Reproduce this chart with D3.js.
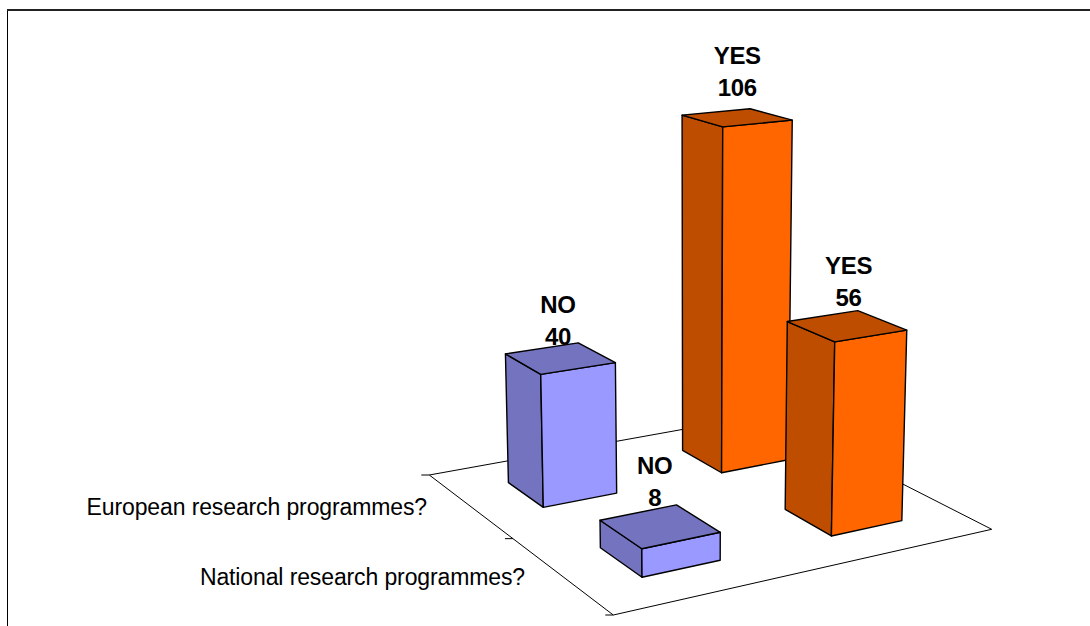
<!DOCTYPE html>
<html><head><meta charset="utf-8">
<script src="https://cdn.jsdelivr.net/npm/d3@7"></script>
<style>html,body{margin:0;padding:0;background:#fff}svg{display:block}</style>
</head><body><div id="c"></div>
<script>
const series = ["NO", "YES"];
const categories = ["National research programmes?", "European research programmes?"];
const noValues = [8, 40];
const yesValues = [56, 106];
const seriesColors = {NO: ["#9999ff", "#7373bf"], YES: ["#ff6600", "#bf4d00"]};

const W = 1090, H = 626;
const svg = d3.select("#c").append("svg").attr("width", W).attr("height", H);

// floor plane corners on screen -> projective map (u along series, v along depth)
const floor = {p0:[613.3,615], p1:[991.7,529.3], p2:[766,414.4], p3:[429.3,475]};
function homography(q){
  const [x0,y0]=q.p0,[x1,y1]=q.p1,[x2,y2]=q.p2,[x3,y3]=q.p3;
  const dx1=x1-x2,dx2=x3-x2,sx=x0-x1+x2-x3,dy1=y1-y2,dy2=y3-y2,sy=y0-y1+y2-y3;
  const det=dx1*dy2-dx2*dy1;
  const g=(sx*dy2-dx2*sy)/det,h=(dx1*sy-sx*dy1)/det;
  return {a:x1-x0+g*x1,b:x3-x0+h*x3,c:x0,d:y1-y0+g*y1,e:y3-y0+h*y3,f:y0,g,h};
}
const M = homography(floor);
const vanish = [695, 8500];
const zScale = d3.scaleLinear().domain([0,106]).range([0,0.0497]);
function project(u,v,val){
  const t=zScale(val);
  const X=M.a*u+M.b*v+M.c - t*vanish[0];
  const Y=M.d*u+M.e*v+M.f - t*vanish[1];
  const w=M.g*u+M.h*v+1 - t;
  return [X/w,Y/w];
}
const uScale = d3.scaleBand().domain(series).range([0,1]).paddingInner(0.6).paddingOuter(0.3);
const vScale = d3.scaleBand().domain(categories).range([0,1]).paddingInner(0.6).paddingOuter(0.3);
const line = d3.line();
const poly = pts => line(pts)+"Z";

// frame: left edge and top edge only (right and bottom run off the picture)
svg.append("line").attr("x1",7.5).attr("x2",7.5).attr("y1",10).attr("y2",H).attr("stroke","#000").attr("stroke-width",1);
svg.append("line").attr("x1",7).attr("x2",W).attr("y1",10).attr("y2",10).attr("stroke","#222").attr("stroke-width",2);

// floor
svg.append("path").attr("d",poly([[0,0],[1,0],[1,1],[0,1]].map(([u,v])=>project(u,v,0))))
  .attr("fill","#fff").attr("stroke","#000").attr("stroke-width",1);
// depth-axis ticks
[0,0.5,1].forEach(v=>{
  const [x,y]=project(0,v,0);
  svg.append("line").attr("x1",x-8).attr("x2",x).attr("y1",y).attr("y2",y).attr("stroke","#000").attr("stroke-width",1);
});

// category labels
const catLabelX = [525, 427], catLabelY = [584.5, 514.5];
svg.selectAll("text.cat").data(categories).join("text").attr("class","cat")
  .attr("x",(d,i)=>catLabelX[i]).attr("y",(d,i)=>catLabelY[i])
  .attr("text-anchor","end").attr("font-family","Liberation Sans, Arial, sans-serif")
  .attr("font-size",23).attr("letter-spacing",-0.12).attr("fill","#000").text(d=>d);

// bars, back to front
const bars = [];
categories.forEach((c,i)=>{
  bars.push({s:"NO",c,val:noValues[i]});
  bars.push({s:"YES",c,val:yesValues[i]});
});
bars.sort((a,b)=>vScale(b.c)-vScale(a.c) || uScale(a.s)-uScale(b.s));

const labelLift = {NO8:20, NO40:13.5, YES56:20, YES106:21.5};
const labelShift = {NO8:-5, NO40:-2, YES56:2, YES106:0.5};
// labels lie beneath the bars
bars.forEach(b=>{
  const u0=uScale(b.s),u1=u0+uScale.bandwidth(),v0=vScale(b.c),v1=v0+vScale.bandwidth();
  const [cx,cy]=project((u0+u1)/2,(v0+v1)/2,b.val);
  const key=b.s+b.val;
  const t=svg.append("text").attr("text-anchor","middle").attr("font-family","Liberation Sans, Arial, sans-serif")
    .attr("font-weight","bold").attr("font-size",24).attr("letter-spacing",-0.3).attr("fill","#000");
  t.append("tspan").attr("x",cx+labelShift[key]).attr("y",cy-labelLift[key]-32).text(b.s);
  t.append("tspan").attr("x",cx+labelShift[key]).attr("y",cy-labelLift[key]).text(b.val);
});
bars.forEach(b=>{
  const u0=uScale(b.s),u1=u0+uScale.bandwidth(),v0=vScale(b.c),v1=v0+vScale.bandwidth();
  const [front,side]=seriesColors[b.s];
  const g=svg.append("g").attr("stroke","#000").attr("stroke-width",1.4).attr("stroke-linejoin","round");
  g.append("path").attr("fill",side).attr("d",poly([project(u0,v0,0),project(u0,v1,0),project(u0,v1,b.val),project(u0,v0,b.val)]));
  g.append("path").attr("fill",front).attr("d",poly([project(u0,v0,0),project(u1,v0,0),project(u1,v0,b.val),project(u0,v0,b.val)]));
  g.append("path").attr("fill",side).attr("d",poly([project(u0,v0,b.val),project(u1,v0,b.val),project(u1,v1,b.val),project(u0,v1,b.val)]));
});
</script></body></html>
